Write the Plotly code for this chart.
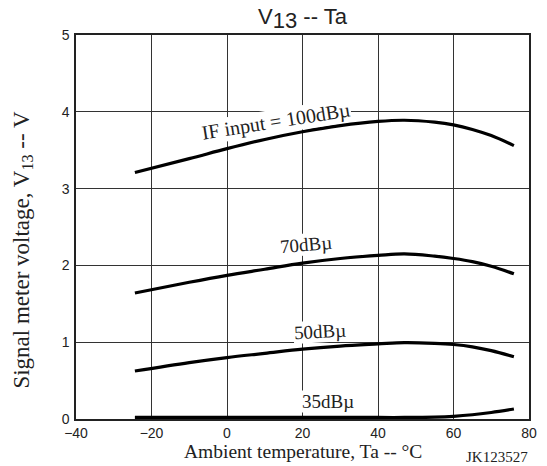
import plotly.graph_objects as go

# Data
temps = [-24.4, -10, 0, 10, 20, 30, 40, 47, 55, 60, 65, 70, 76]
v_100 = [3.21, 3.39, 3.52, 3.64, 3.74, 3.82, 3.875, 3.89, 3.865, 3.83, 3.77, 3.69, 3.56]
v_70 = [1.64, 1.78, 1.87, 1.95, 2.03, 2.09, 2.13, 2.15, 2.12, 2.09, 2.05, 1.99, 1.89]
v_50 = [0.625, 0.735, 0.80, 0.855, 0.91, 0.95, 0.977, 0.994, 0.985, 0.97, 0.94, 0.89, 0.81]
v_35 = [0.02, 0.02, 0.02, 0.02, 0.02, 0.02, 0.02, 0.02, 0.025, 0.035, 0.055, 0.085, 0.13]

series_names = ["IF input = 100dBµ", "70dBµ", "50dBµ", "35dBµ"]
series_values = [v_100, v_70, v_50, v_35]
label_x = [13.0, 20.9, 24.7, 26.8]
label_y = [3.88, 2.27, 1.14, 0.225]
label_angle = [-9, -5, -3, 0]
label_size = [20, 19, 19, 19]

x_ticks = [-40, -20, 0, 20, 40, 60, 80]
y_ticks = [0, 1, 2, 3, 4, 5]

SERIF = "Liberation Serif"
SANS = "Liberation Sans"
INK = "#222"

fig = go.Figure()
for name, vals in zip(series_names, series_values):
    fig.add_trace(go.Scatter(
        x=temps, y=vals, mode="lines", name=name,
        line=dict(color="black", width=3.2, shape="spline", smoothing=1.0),
        showlegend=False, hoverinfo="skip"))

for name, lx, ly, ang, sz in zip(series_names, label_x, label_y, label_angle, label_size):
    fig.add_annotation(x=lx, y=ly, xref="x", yref="y", text=name, showarrow=False,
                       textangle=ang, bgcolor="white", borderpad=0,
                       font=dict(family=SERIF, size=sz, color=INK))

fig.add_annotation(x=0.5, y=-0.051, xref="paper", yref="paper", yanchor="top",
                   text="Ambient temperature, Ta -- °C", showarrow=False,
                   font=dict(family=SERIF, size=19.5, color=INK))
fig.add_annotation(x=-0.118, y=0.44, xref="paper", yref="paper", xanchor="center",
                   textangle=-90,
                   text="Signal meter voltage, V<sub>13</sub> -- V", showarrow=False,
                   font=dict(family=SERIF, size=23, color=INK))
fig.add_annotation(x=1.003, y=-0.098, xref="paper", yref="paper", xanchor="right", yanchor="middle",
                   text="JK123527", showarrow=False,
                   font=dict(family=SERIF, size=15, color=INK))

fig.update_layout(
    width=547, height=466,
    margin=dict(l=76, r=10, t=35, b=47),
    paper_bgcolor="white", plot_bgcolor="white",
    title=dict(text="V<sub><span style='font-size:22px'>13</span></sub> -- Ta",
               x=0.5, xref="paper", xanchor="center",
               y=0.966, yref="container", yanchor="middle",
               font=dict(family=SANS, size=22, color=INK)),
    xaxis=dict(range=[-40, 80], tickvals=x_ticks, showgrid=True, gridcolor="#333", gridwidth=1,
               showline=True, linecolor=INK, linewidth=1.5, mirror=True, zeroline=False,
               ticks="", ticklabelstandoff=0,
               tickfont=dict(family=SANS, size=14, color=INK)),
    yaxis=dict(range=[0, 5], tickvals=y_ticks, showgrid=True, gridcolor="#333", gridwidth=1,
               showline=True, linecolor=INK, linewidth=1.5, mirror=True, zeroline=False,
               ticks="", ticklabelstandoff=2,
               tickfont=dict(family=SANS, size=14, color=INK)),
)

fig.write_html("out.html",
               config={"displayModeBar": False},
               post_script="document.body.style.margin='0';document.body.style.overflow='hidden';")
